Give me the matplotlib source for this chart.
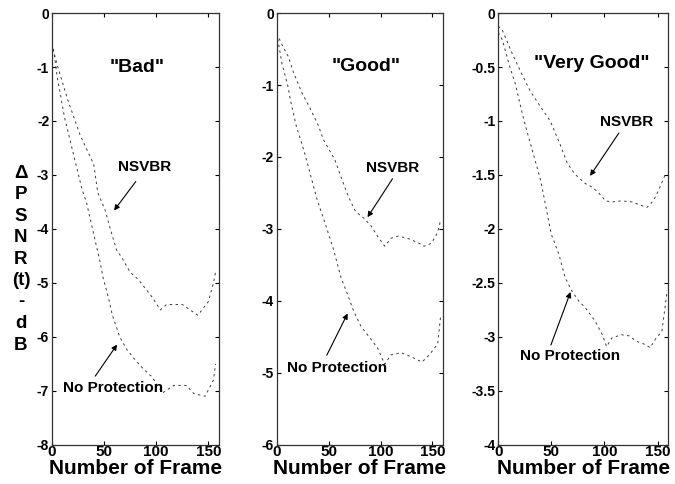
import matplotlib.pyplot as plt
import numpy as np

plt.rcParams["font.family"] = ["Liberation Sans", "DejaVu Sans"]
plt.rcParams["font.weight"] = "bold"

# --- data (frame, delta PSNR in dB) ---
bad_nsvbr_x = [0, 2, 5, 15, 27, 40, 44, 51, 56, 62, 67, 75, 83, 96, 104, 110, 125, 140, 150, 155, 157]
bad_nsvbr_y = [-0.56, -0.74, -0.96, -1.6, -2.26, -2.8, -3.33, -3.65, -4.0, -4.39, -4.53, -4.8, -4.94, -5.26, -5.5, -5.4, -5.4, -5.6, -5.35, -5.0, -4.8]
bad_noprot_x = [0, 2, 5, 12, 29, 33, 46, 49, 54, 58, 65, 72, 80, 88, 96, 106, 117, 129, 136, 147, 155, 157]
bad_noprot_y = [-0.56, -0.74, -1.18, -1.93, -3.28, -3.5, -4.6, -4.9, -5.26, -5.6, -6.0, -6.24, -6.43, -6.6, -6.74, -7.04, -6.9, -6.9, -7.05, -7.1, -6.8, -6.5]

good_nsvbr_x = [0, 6, 11, 16, 24, 32, 40, 45, 56, 63, 69, 76, 84, 91, 97, 104, 110, 117, 126, 136, 142, 149, 155, 158]
good_nsvbr_y = [-0.28, -0.47, -0.6, -0.82, -1.1, -1.32, -1.56, -1.76, -2.04, -2.32, -2.55, -2.76, -2.85, -2.96, -3.1, -3.24, -3.13, -3.1, -3.13, -3.19, -3.24, -3.2, -3.05, -2.87]
good_noprot_x = [0, 5, 11, 13, 19, 27, 32, 39, 47, 55, 62, 68, 74, 81, 89, 97, 104, 110, 120, 130, 140, 147, 155, 158]
good_noprot_y = [-0.28, -0.7, -1.03, -1.2, -1.58, -1.95, -2.22, -2.6, -2.94, -3.3, -3.68, -3.9, -4.14, -4.35, -4.5, -4.65, -4.88, -4.75, -4.72, -4.78, -4.85, -4.75, -4.6, -4.2]

vg_nsvbr_x = [0, 4, 13, 22, 30, 40, 49, 58, 65, 72, 82, 88, 94, 101, 107, 116, 126, 134, 140, 146, 151, 157]
vg_nsvbr_y = [-0.12, -0.16, -0.37, -0.56, -0.72, -0.87, -1.0, -1.21, -1.39, -1.49, -1.58, -1.61, -1.66, -1.74, -1.75, -1.74, -1.75, -1.78, -1.8, -1.74, -1.64, -1.5]
vg_noprot_x = [0, 4, 11, 16, 21, 25, 40, 50, 57, 63, 69, 76, 82, 91, 98, 102, 107, 116, 123, 130, 138, 143, 148, 154, 159]
vg_noprot_y = [-0.18, -0.25, -0.5, -0.65, -0.86, -1.02, -1.55, -2.05, -2.23, -2.45, -2.57, -2.67, -2.73, -2.85, -2.98, -3.09, -3.01, -2.98, -2.99, -3.04, -3.07, -3.1, -3.02, -2.95, -2.57]

ylabel_parts = ["\u0394", "P", "S", "N", "R", "(t)", "-", "d", "B"]

panels = [
    dict(title='"Bad"', title_xy=(82, -1.0), ylim=(-8, 0), yticks=np.arange(-8, 1, 1),
         nsvbr=(bad_nsvbr_x, bad_nsvbr_y), noprot=(bad_noprot_x, bad_noprot_y),
         ns_text=(89, -2.85), ns_from=(82, -3.08), ns_tip=(58, -3.7),
         np_text=(59, -6.95), np_from=(40, -6.77), np_tip=(64, -6.1),
         rect=[0.077, 0.081, 0.247, 0.892]),
    dict(title='"Good"', title_xy=(86, -0.74), ylim=(-6, 0), yticks=np.arange(-6, 1, 1),
         nsvbr=(good_nsvbr_x, good_nsvbr_y), noprot=(good_noprot_x, good_noprot_y),
         ns_text=(112, -2.15), ns_from=(113, -2.27), ns_tip=(86, -2.87),
         np_text=(58, -4.93), np_from=(47, -4.79), np_tip=(69.5, -4.14),
         rect=[0.410, 0.081, 0.246, 0.892]),
    dict(title='"Very Good"', title_xy=(88, -0.47), ylim=(-4, 0), yticks=np.arange(-4, 0.01, 0.5),
         nsvbr=(vg_nsvbr_x, vg_nsvbr_y), noprot=(vg_noprot_x, vg_noprot_y),
         ns_text=(121, -1.01), ns_from=(115, -1.09), ns_tip=(85, -1.53),
         np_text=(67.6, -3.18), np_from=(48.7, -3.1), np_tip=(69, -2.56),
         rect=[0.738, 0.081, 0.252, 0.892]),
]

fig = plt.figure(figsize=(6.75, 4.84), dpi=100)

for p in panels:
    ax = fig.add_axes(p["rect"])
    line_kw = dict(color="#3a3a3a", lw=0.7, ls=(0, (2.5, 3.5)))
    ax.plot(*p["nsvbr"], **line_kw)
    ax.plot(*p["noprot"], **line_kw)
    ax.set_xlim(0, 160)
    ax.set_ylim(*p["ylim"])
    ax.set_xticks([0, 50, 100, 150])
    ax.set_yticks(p["yticks"])
    ax.set_yticklabels(["%g" % v for v in p["yticks"]])
    ax.tick_params(direction="in", top=True, right=True, length=3, width=0.8)
    ax.tick_params(axis="x", labelsize=11, pad=0.5)
    ax.tick_params(axis="y", labelsize=10, pad=2)
    for s in ax.spines.values():
        s.set_linewidth(0.9)
        s.set_color("#333333")
    ax.set_xlabel("Number of Frame", fontsize=15, fontweight="bold", labelpad=0)
    ax.text(*p["title_xy"], p["title"], ha="center", va="center", fontsize=14, fontweight="bold")
    arrow = dict(arrowstyle="-|>", color="black", lw=0.8, mutation_scale=8)
    ax.text(*p["ns_text"], "NSVBR", ha="center", va="center", fontsize=11, fontweight="bold")
    ax.annotate("", xy=p["ns_tip"], xytext=p["ns_from"], arrowprops=arrow)
    ax.text(*p["np_text"], "No Protection", ha="center", va="center", fontsize=11, fontweight="bold")
    ax.annotate("", xy=p["np_tip"], xytext=p["np_from"], arrowprops=arrow)

# stacked vertical y-axis label
for i, part in enumerate(ylabel_parts):
    fig.text(0.031, 1 - (173 + i * 21.5) / 484, part, ha="center", va="center",
             fontsize=13.5, fontweight="bold")

fig.savefig("out.png", dpi=100)
